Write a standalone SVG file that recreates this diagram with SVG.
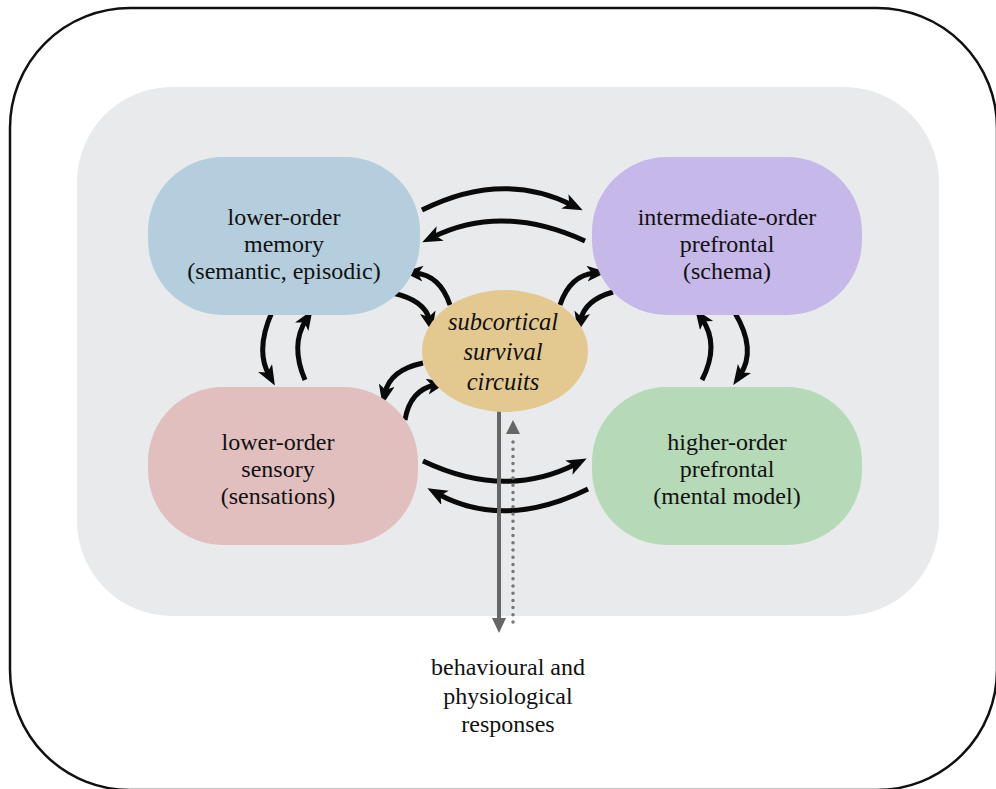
<svg xmlns="http://www.w3.org/2000/svg" width="996" height="789" viewBox="0 0 996 789">
<defs>
<style>
.lbl{font-family:"Liberation Serif","Times New Roman","DejaVu Serif",serif;font-size:24px;fill:#111;text-anchor:middle}
.it{font-style:italic;font-size:24.5px}
.arr{fill:none;stroke:#0a0a0a;stroke-width:5}
</style>
<marker id="ah" markerUnits="userSpaceOnUse" markerWidth="22" markerHeight="18" refX="8" refY="8" orient="auto">
<path d="M0,0 L20,8 L0,16 L5,8 Z" fill="#0a0a0a"/>
</marker>
<marker id="gh" markerUnits="userSpaceOnUse" markerWidth="16" markerHeight="16" refX="2" refY="7" orient="auto">
<path d="M0,0 L15,7 L0,14 Z" fill="#666"/>
</marker>
</defs>
<rect width="996" height="789" fill="#ffffff"/>
<rect x="10" y="8" width="987" height="782" rx="120" ry="120" fill="none" stroke="#111" stroke-width="2.5"/>
<rect x="77" y="87" width="862" height="529" rx="95" ry="95" fill="#e8eaeb"/>

<g id="connectors">
<path class="arr" d="M422,210 Q502,170 572,205" marker-end="url(#ah)"/>
<path class="arr" d="M585,241 Q502,203 433,237" marker-end="url(#ah)"/>
<path class="arr" d="M272,312 Q255,350 269,375" marker-end="url(#ah)"/>
<path class="arr" d="M305,380 Q290,345 306,320" marker-end="url(#ah)"/>
<path class="arr" d="M702,380 Q720,345 702,319" marker-end="url(#ah)"/>
<path class="arr" d="M735,313 Q757,350 740,375" marker-end="url(#ah)"/>
<path class="arr" d="M423,461 Q505,500 576,464" marker-end="url(#ah)"/>
<path class="arr" d="M588,489 Q505,530 438,494" marker-end="url(#ah)"/>
<path class="arr" d="M450,305 Q440,275 415,273" marker-end="url(#ah)"/>
<path class="arr" d="M392,293 Q425,300 429.5,320" marker-end="url(#ah)"/>
<path class="arr" d="M560,305 Q570,275 595,273" marker-end="url(#ah)"/>
<path class="arr" d="M613,292 Q585,300 580.5,320" marker-end="url(#ah)"/>
<path class="arr" d="M423,363 Q390,370 385,393" marker-end="url(#ah)"/>
<path class="arr" d="M405,420 Q410,390 435,385" marker-end="url(#ah)"/>
<line x1="499" y1="410" x2="499" y2="620" stroke="#666" stroke-width="4" marker-end="url(#gh)"/>
<line x1="513" y1="622" x2="513" y2="436" stroke="#777" stroke-width="3.5" stroke-linecap="round" stroke-dasharray="0 7.2"/>
<path d="M506,434 L513,420 L520,434 Z" fill="#666"/>
</g>

<g id="memory">
<rect x="148" y="157" width="272" height="158" rx="75" ry="75" fill="#b4cedd"/>
<text class="lbl" x="284" y="225">lower-order</text>
<text class="lbl" x="284" y="252">memory</text>
<text class="lbl" x="284" y="279">(semantic, episodic)</text>
</g>
<g id="intermediate">
<rect x="592" y="157" width="270" height="158" rx="75" ry="75" fill="#c6b8e8"/>
<text class="lbl" x="727" y="225">intermediate-order</text>
<text class="lbl" x="727" y="252">prefrontal</text>
<text class="lbl" x="727" y="279">(schema)</text>
</g>
<g id="sensory">
<rect x="148" y="387" width="270" height="158" rx="75" ry="75" fill="#e0bfbe"/>
<text class="lbl" x="278" y="450">lower-order</text>
<text class="lbl" x="278" y="477">sensory</text>
<text class="lbl" x="278" y="504">(sensations)</text>
</g>
<g id="higher">
<rect x="592" y="387" width="270" height="158" rx="75" ry="75" fill="#b6dab7"/>
<text class="lbl" x="727" y="450">higher-order</text>
<text class="lbl" x="727" y="477">prefrontal</text>
<text class="lbl" x="727" y="504">(mental model)</text>
</g>
<g id="subcortical">
<ellipse cx="505" cy="351" rx="83" ry="61" fill="#e3c990"/>
<text class="lbl it" x="503" y="330">subcortical</text>
<text class="lbl it" x="503" y="360">survival</text>
<text class="lbl it" x="503" y="390">circuits</text>
</g>
<g id="responses">
<text class="lbl" x="508" y="675">behavioural and</text>
<text class="lbl" x="508" y="704">physiological</text>
<text class="lbl" x="508" y="732">responses</text>
</g>
</svg>
